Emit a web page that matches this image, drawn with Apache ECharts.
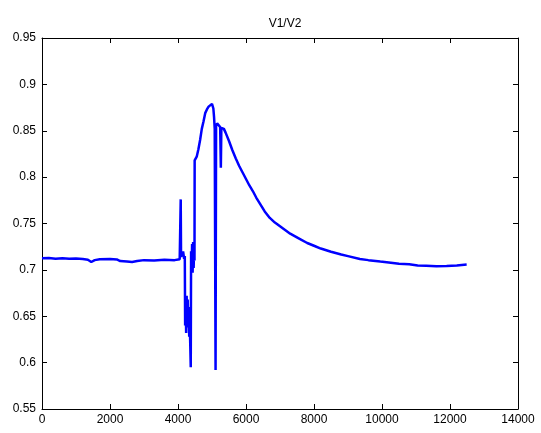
<!DOCTYPE html>
<html>
<head>
<meta charset="utf-8">
<script src="https://cdn.jsdelivr.net/npm/echarts@6/dist/echarts.min.js"></script>
<style>
html,body{margin:0;padding:0;background:#fff;}
#c{width:541px;height:433px;}
</style>
</head>
<body>
<div id="c"></div>
<script>
var titleText = "V1/V2";
var xTicks = [0, 2000, 4000, 6000, 8000, 10000, 12000, 14000];
var yTicks = [0.55, 0.6, 0.65, 0.7, 0.75, 0.8, 0.85, 0.9, 0.95];

var xs = [0, 200, 400, 600, 800, 1000, 1200, 1350, 1450, 1550, 1700, 2000, 2200, 2300, 2500, 2650, 2800, 3000, 3300, 3600, 3900, 4050,
  4070, 4080, 4090, 4120, 4150, 4180, 4200, 4210, 4225, 4240, 4255, 4270, 4285, 4300, 4315, 4330, 4345, 4360, 4375, 4385, 4400, 4415, 4430, 4445, 4460, 4475, 4485,
  4490, 4550, 4600, 4650, 4700, 4750, 4800, 4850, 4900, 4950, 5000, 5040, 5060, 5080, 5100, 5105, 5112, 5120, 5150, 5200, 5240, 5260, 5275, 5300,
  5350, 5400, 5500, 5600, 5700, 5800, 5900, 6000, 6100, 6200, 6300, 6400, 6550, 6700, 6850, 7000, 7150, 7300, 7550, 7800, 8000, 8200, 8500, 8800, 9000, 9350, 9600, 9950, 10200, 10500, 10800, 11050, 11300, 11600, 11900, 12200, 12490];
var ys = [0.7125, 0.7128, 0.712, 0.7125, 0.712, 0.7122, 0.7118, 0.711, 0.7085, 0.7105, 0.7115, 0.7118, 0.7112, 0.7095, 0.709, 0.7085, 0.7095, 0.7105, 0.7102, 0.7108, 0.7105, 0.7115,
  0.712, 0.776, 0.714, 0.716, 0.72, 0.712, 0.715, 0.64, 0.665, 0.632, 0.672, 0.638, 0.668, 0.642, 0.66, 0.628, 0.645, 0.62, 0.595, 0.72, 0.70, 0.728, 0.697, 0.73, 0.702, 0.725, 0.71,
  0.818, 0.822, 0.83, 0.84, 0.852, 0.86, 0.869, 0.873, 0.876, 0.877, 0.879, 0.874, 0.865, 0.852, 0.85, 0.592, 0.593, 0.855, 0.858, 0.856, 0.854, 0.81, 0.853, 0.855,
  0.852, 0.848, 0.839, 0.829, 0.82, 0.812, 0.805, 0.798, 0.791, 0.785, 0.778, 0.772, 0.763, 0.756, 0.751, 0.747, 0.743, 0.739, 0.734, 0.729, 0.726, 0.723, 0.7195, 0.7165, 0.7148, 0.7118, 0.7105, 0.709, 0.708, 0.7067, 0.706, 0.7048, 0.7045, 0.704, 0.7042, 0.7048, 0.7058];

var pts = xs.map(function (x, i) { return [x, ys[i]]; });
var font = "Liberation Sans, Arial, sans-serif";

function xAxisCfg(pos, showLabel) {
  return {
    type: 'value', position: pos, min: xTicks[0], max: xTicks[xTicks.length - 1], interval: 2000,
    axisLine: { show: true, onZero: false, lineStyle: { color: '#000', width: 1 } },
    axisTick: { show: true, inside: true, length: 5, lineStyle: { color: '#000' } },
    axisLabel: { show: showLabel, color: '#000', fontSize: 12, fontFamily: font, margin: 5,
      formatter: function (v) { return String(Math.round(v)); } },
    splitLine: { show: false }
  };
}
function yAxisCfg(pos, showLabel) {
  return {
    type: 'value', position: pos, min: yTicks[0], max: yTicks[yTicks.length - 1], interval: 0.05,
    axisLine: { show: true, onZero: false, lineStyle: { color: '#000', width: 1 } },
    axisTick: { show: true, inside: true, length: 5, lineStyle: { color: '#000' } },
    axisLabel: { show: showLabel, color: '#000', fontSize: 12, fontFamily: font, margin: 6,
      formatter: function (v) { return String(+v.toFixed(2)); } },
    splitLine: { show: false }
  };
}

var chart = echarts.init(document.getElementById('c'));
chart.setOption({
  animation: false,
  backgroundColor: '#fff',
  title: { text: titleText, left: 280, top: 13, textAlign: 'center',
    textStyle: { fontSize: 12, fontWeight: 'normal', color: '#000', fontFamily: font } },
  grid: { left: 42, right: 23, top: 38, bottom: 24, containLabel: false },
  xAxis: [xAxisCfg('bottom', true), xAxisCfg('top', false)],
  yAxis: [yAxisCfg('left', true), yAxisCfg('right', false)],
  series: [{
    type: 'line', data: pts, xAxisIndex: 0, yAxisIndex: 0,
    showSymbol: false, symbol: 'none',
    lineStyle: { color: '#0000ff', width: 2.5 }
  }]
});
</script>
</body>
</html>
